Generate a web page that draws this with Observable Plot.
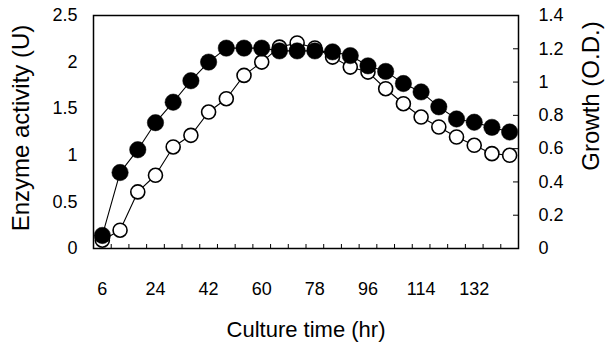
<!DOCTYPE html>
<html>
<head>
<meta charset="utf-8">
<script src="https://cdn.jsdelivr.net/npm/d3@7"></script>
<script src="https://cdn.jsdelivr.net/npm/@observablehq/plot@0.6"></script>
<style>
  html, body { margin: 0; padding: 0; background: #fff; }
  #chart svg { display: block; }
</style>
</head>
<body>
<div id="chart"></div>
<script>
// Culture time (hr), sampled every 6 hours
const hours = [6, 12, 18, 24, 30, 36, 42, 48, 54, 60, 66, 72, 78, 84, 90, 96, 102, 108, 114, 120, 126, 132, 138, 144];
// Enzyme activity (U), left axis — filled circles
const enzyme = [0.14, 0.815, 1.06, 1.35, 1.57, 1.80, 2.0, 2.15, 2.15, 2.15, 2.12, 2.12, 2.12, 2.11, 2.07, 1.96, 1.90, 1.77, 1.68, 1.52, 1.39, 1.355, 1.30, 1.25];
// Growth (O.D.), right axis — open circles
const growth = [0.05, 0.11, 0.34, 0.44, 0.61, 0.68, 0.82, 0.90, 1.04, 1.12, 1.21, 1.235, 1.205, 1.15, 1.09, 1.06, 0.96, 0.87, 0.79, 0.73, 0.67, 0.62, 0.57, 0.56];

const leftTicks = [0, 0.5, 1, 1.5, 2, 2.5];
const rightTicks = [0, 0.2, 0.4, 0.6, 0.8, 1.0, 1.2, 1.4];
const xTickLabels = [6, 24, 42, 60, 78, 96, 114, 132];
const xTickMarks = [9, 15, 21, 27, 33, 39, 45, 51, 57, 63, 69, 75, 81, 87, 93, 99, 105, 111, 117, 123, 129, 135, 141];

const leftMax = 2.5, rightMax = 1.4;
const k = leftMax / rightMax; // growth -> left-axis units

const enzymeData = hours.map((h, i) => ({h, v: enzyme[i]}));
const growthData = hours.map((h, i) => ({h, v: growth[i] * k}));

const W = 610, H = 344;
const mL = 93, mR = 92, mT = 15, mB = 96;
const innerW = W - mL - mR, innerH = H - mT - mB;
const font = "'Liberation Sans', Arial, Helvetica, sans-serif";
const fmt = d3.format("~g");

const chart = Plot.plot({
  width: W,
  height: H,
  marginLeft: mL,
  marginRight: mR,
  marginTop: mT,
  marginBottom: mB,
  style: {fontFamily: font, fontSize: "18px", color: "#000", background: "#fff"},
  x: {domain: [3, 147]},
  y: {domain: [0, leftMax]},
  marks: [
    // left axis labels
    Plot.axisY(leftTicks, {anchor: "left", tickSize: 0, tickPadding: 16, fontSize: 18, tickFormat: d => fmt(d), label: null}),
    // right axis labels (growth scale)
    Plot.axisY(rightTicks.map(v => v * k), {anchor: "right", tickSize: 0, tickPadding: 20, fontSize: 18, tickFormat: d => fmt(+(d / k).toFixed(2)), label: null}),
    // bottom axis labels
    Plot.axisX(xTickLabels, {anchor: "bottom", tickSize: 0, tickPadding: 34, fontSize: 18, label: null}),
    // inward tick marks on the bottom edge
    Plot.ruleX(xTickMarks, {x: d => d, y1: leftMax, y2: 0, insetTop: innerH - 4, stroke: "#000", strokeWidth: 1}),
    // inward tick marks on the right edge
    Plot.ruleY(rightTicks.slice(1, -1).map(v => v * k), {y: d => d, x1: 3, x2: 147, insetLeft: innerW - 5, stroke: "#000", strokeWidth: 1}),
    Plot.frame({stroke: "#000", strokeWidth: 1.5}),
    // series lines
    Plot.line(enzymeData, {x: "h", y: "v", stroke: "#000", strokeWidth: 1.1}),
    Plot.line(growthData, {x: "h", y: "v", stroke: "#000", strokeWidth: 1.1}),
    // growth: open circles
    Plot.dot(growthData, {x: "h", y: "v", r: 7, fill: "#fff", stroke: "#000", strokeWidth: 1.6}),
    // enzyme activity: filled circles
    Plot.dot(enzymeData, {x: "h", y: "v", r: 8.2, fill: "#000", stroke: "#000", strokeWidth: 0.5}),
    // axis titles
    Plot.text(["Enzyme activity (U)"], {text: d => d, frameAnchor: "left", textAnchor: "middle", lineAnchor: "middle", rotate: -90, dx: -72, dy: -4, fontSize: 24, fill: "#000"}),
    Plot.text(["Growth (O.D.)"], {text: d => d, frameAnchor: "right", textAnchor: "middle", lineAnchor: "middle", rotate: -90, dx: 73, dy: -36, fontSize: 24, fill: "#000"}),
    Plot.text(["Culture time (hr)"], {text: d => d, frameAnchor: "bottom", textAnchor: "middle", lineAnchor: "middle", dy: 81, fontSize: 22, fill: "#000", style: "letter-spacing:-0.4px"})
  ]
});

document.getElementById("chart").appendChild(chart);
</script>
</body>
</html>
